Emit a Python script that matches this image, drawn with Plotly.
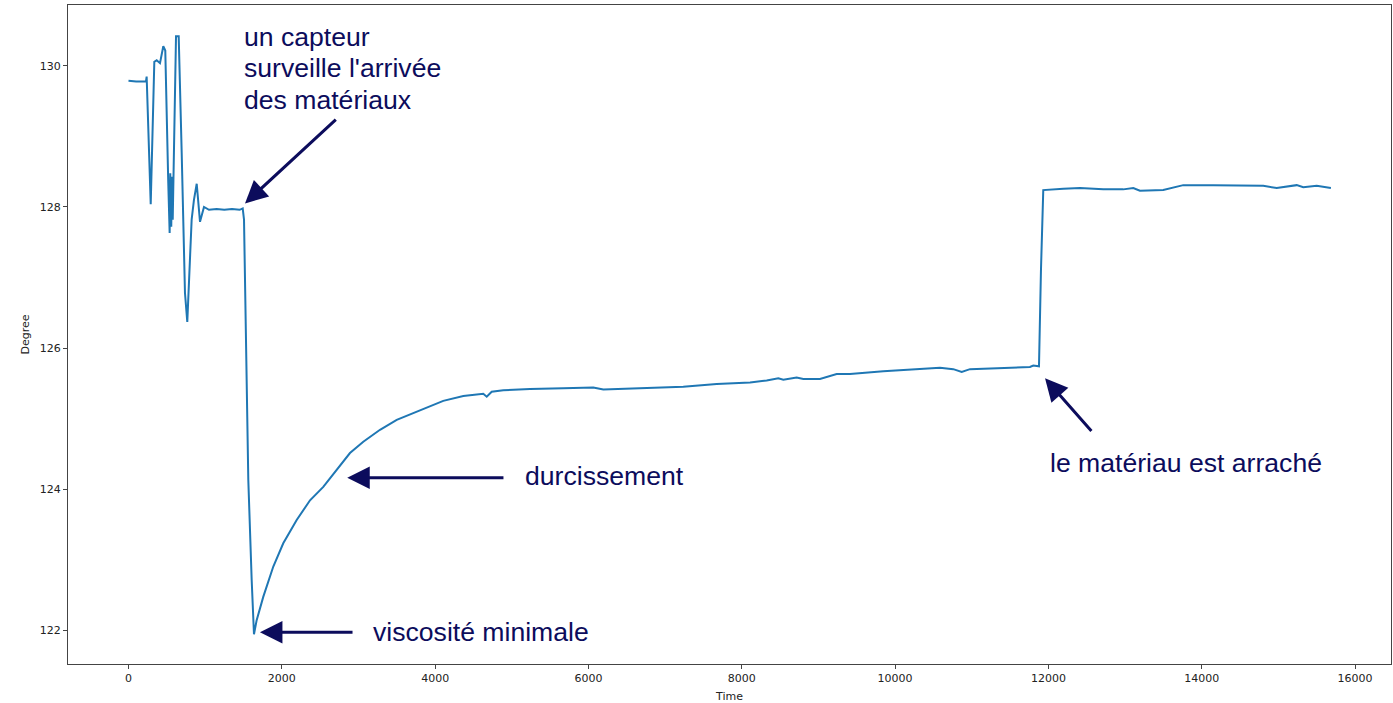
import plotly.graph_objects as go

# ---- data ----
time = [0, 100, 228, 237, 290, 337, 368, 411, 454, 480, 519, 537, 545, 558, 567, 577,
        620, 655, 694, 737, 767, 802, 824, 854, 890, 933, 985, 1050, 1150, 1250, 1350,
        1450, 1490, 1507, 1533, 1563, 1607, 1637, 1672, 1758, 1889, 2019, 2194, 2368,
        2541, 2629, 2716, 2759, 2889, 3063, 3281, 3499, 3715, 3933, 4106, 4367, 4628,
        4673, 4738, 4889, 5237, 5672, 6063, 6194, 6542, 6803, 7237, 7673, 8109, 8325,
        8477, 8542, 8716, 8803, 9020, 9238, 9412, 9846, 10282, 10586, 10759, 10869,
        10977, 11368, 11759, 11803, 11855, 11877, 11903, 11933, 12195, 12412, 12716,
        12977, 13107, 13194, 13498, 13673, 13759, 14151, 14587, 14803, 14978, 15239,
        15325, 15500, 15685]
degree = [129.79, 129.78, 129.78, 129.85, 128.04, 130.06, 130.08, 130.04, 130.28, 130.22,
          128.34, 127.63, 128.48, 127.72, 128.43, 127.82, 130.42, 130.42, 128.77, 126.78,
          126.37, 127.34, 127.82, 128.10, 128.33, 127.79, 128.00, 127.96, 127.97, 127.96,
          127.97, 127.96, 127.98, 127.82, 126.02, 124.13, 122.71, 121.94, 122.14, 122.47,
          122.90, 123.23, 123.56, 123.84, 124.03, 124.15, 124.26, 124.33, 124.51, 124.67,
          124.84, 124.98, 125.08, 125.18, 125.25, 125.32, 125.35, 125.31, 125.38, 125.40,
          125.42, 125.43, 125.44, 125.41, 125.42, 125.43, 125.45, 125.49, 125.51, 125.54,
          125.57, 125.55, 125.58, 125.56, 125.56, 125.63, 125.63, 125.67, 125.70, 125.72,
          125.70, 125.66, 125.70, 125.71, 125.73, 125.75, 125.75, 125.74, 127.11, 128.24,
          128.26, 128.27, 128.25, 128.25, 128.27, 128.23, 128.24, 128.28, 128.31, 128.31,
          128.30, 128.30, 128.27, 128.31, 128.28, 128.30, 128.27]

x_ticks = [0, 2000, 4000, 6000, 8000, 10000, 12000, 14000, 16000]
y_ticks = [122, 124, 126, 128, 130]

NAVY = "#0c0c5c"
TXT = dict(family="Liberation Sans, Arial, sans-serif", size=26.6, color=NAVY)

fig = go.Figure()
fig.add_trace(go.Scatter(x=time, y=degree, mode="lines",
                         line=dict(color="#1f77b4", width=2), showlegend=False))

# text annotations
texts = [
    ("un capteur", 1480, 130.41),
    ("surveille l'arrivée", 1480, 129.97),
    ("des matériaux", 1480, 129.52),
    ("durcissement", 5140, 124.18),
    ("viscosité minimale", 3160, 121.97),
    ("le matériau est arraché", 11990, 124.37),
]
for t, x, y in texts:
    fig.add_annotation(x=x, y=y, xref="x", yref="y", text=t, showarrow=False,
                       xanchor="left", yanchor="middle", font=TXT)

# arrows (head x,y ; tail ax,ay)
arrows = [
    (1520, 128.05, 2724, 129.26),
    (2854, 124.16, 4911, 124.16),
    (1715, 121.97, 2942, 121.97),
    (11956, 125.57, 12578, 124.80),
]
for x, y, ax, ay in arrows:
    fig.add_annotation(x=x, y=y, ax=ax, ay=ay, xref="x", yref="y", axref="x", ayref="y",
                       text="", showarrow=True, arrowhead=2, arrowsize=1.5,
                       arrowwidth=3, arrowcolor=NAVY, standoff=0)

axis_common = dict(showgrid=False, zeroline=False, showline=True, mirror=True,
                   linecolor="#444", linewidth=1, ticks="outside", ticklen=4,
                   tickcolor="#444", automargin=False,
                   tickfont=dict(family="DejaVu Sans", size=11, color="#222"))

fig.update_xaxes(range=[-789, 16469], tickvals=x_ticks, ticktext=[str(v) for v in x_ticks],
                 title=dict(text="Time", font=dict(family="DejaVu Sans", size=11, color="#222"),
                            standoff=8), **axis_common)
fig.update_yaxes(range=[121.518, 130.865], tickvals=y_ticks, ticktext=[str(v) for v in y_ticks],
                 title=dict(text="Degree", font=dict(family="DejaVu Sans", size=11, color="#222"),
                            standoff=7), **axis_common)

fig.update_layout(width=1393, height=703, margin=dict(l=68, r=2, t=5, b=39),
                  plot_bgcolor="white", paper_bgcolor="white")

fig.write_html("out.html", config={"displayModeBar": False},
               post_script="document.body.style.margin='0';document.body.style.overflow='hidden';")
